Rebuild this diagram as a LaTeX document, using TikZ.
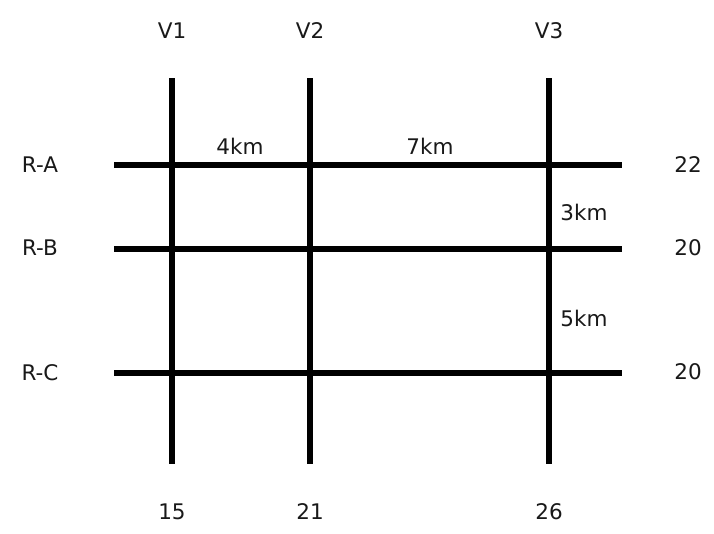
\documentclass[tikz,border=0pt]{standalone}
\usepackage{fontspec}
\setmainfont{DejaVu Sans}
\begin{document}
\begin{tikzpicture}[x=1pt,y=-1pt,
  road/.style={line width=5.2pt,black},
  lbl/.style={font=\fontsize{21.5}{24}\selectfont,text=black!90,inner sep=0pt,anchor=center}]
\useasboundingbox[fill=white] (0,0) rectangle (714,533);
% coordinates
\coordinate (v1t) at (172,78); \coordinate (v1b) at (172,464);
\coordinate (v2t) at (310,78); \coordinate (v2b) at (310,464);
\coordinate (v3t) at (549,78); \coordinate (v3b) at (549,464);
\coordinate (rAl) at (114,165); \coordinate (rAr) at (622,165);
\coordinate (rBl) at (114,249); \coordinate (rBr) at (622,249);
\coordinate (rCl) at (114,373); \coordinate (rCr) at (622,373);
\draw[road] (v1t) -- (v1b);
\draw[road] (v2t) -- (v2b);
\draw[road] (v3t) -- (v3b);
\draw[road] (rAl) -- (rAr);
\draw[road] (rBl) -- (rBr);
\draw[road] (rCl) -- (rCr);
% labels
\node[lbl] (V1) at (172,31) {V1};
\node[lbl] (V2) at (310,31) {V2};
\node[lbl] (V3) at (549,31) {V3};
\node[lbl] (RA) at (40,165) {R-A};
\node[lbl] (RB) at (40,248) {R-B};
\node[lbl] (RC) at (40,373) {R-C};
\node[lbl] (nA) at (688,165) {22};
\node[lbl] (nB) at (688,248) {20};
\node[lbl] (nC) at (688,372) {20};
\node[lbl] (b1) at (172,512) {15};
\node[lbl] (b2) at (310,512) {21};
\node[lbl] (b3) at (549,512) {26};
\node[lbl] (d1) at (240,146) {4km};
\node[lbl] (d2) at (430,146) {7km};
\node[lbl] (d3) at (584,212) {3km};
\node[lbl] (d4) at (584,318) {5km};
\end{tikzpicture}
\end{document}
